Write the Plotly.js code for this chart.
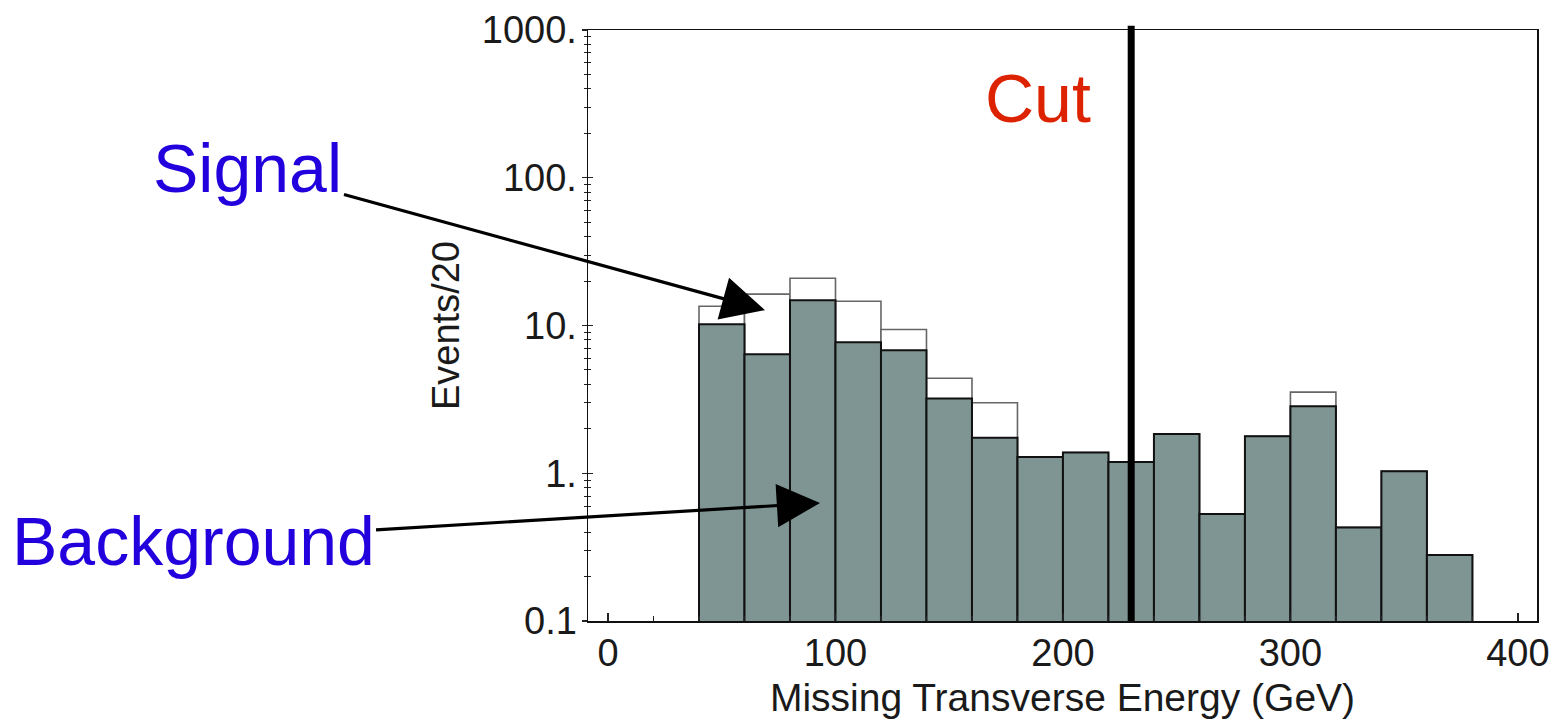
<!DOCTYPE html>
<html><head><meta charset="utf-8">
<script src="https://cdn.plot.ly/plotly-3.0.1.min.js"></script>
<style>html,body{margin:0;padding:0;background:#fff;} #chart{width:1554px;height:727px;}</style>
</head><body><div id="chart"></div>
<script>
// Bin centres (GeV), bin width 20
const binCenters = [50,70,90,110,130,150,170,190,210,230,250,270,290,310,330,350,370];
// Background events per bin
const background = [10.2,6.4,14.8,7.7,6.8,3.2,1.74,1.29,1.38,1.19,1.84,0.53,1.78,2.84,0.43,1.03,0.28];
// Signal + background (outlined histogram)
const total = [13.5,16.3,20.9,14.6,9.4,4.4,3.0,1.29,1.38,1.19,1.84,0.53,1.78,3.54,0.43,1.03,0.28];
const cutValue = 230;
const yTickVals = [0.1,1,10,100,1000];
const yTickText = ['0.1','1.','10.','100.','1000.'];

const minorY = [];
for (let k=-1;k<3;k++){ for (let d=2; d<=9; d++) minorY.push(d*Math.pow(10,k)); }

const FONT = 'Liberation Sans, Arial, sans-serif';

const traces = [
  {type:'bar', x:binCenters, y:total, width:20,
   marker:{color:'#ffffff', line:{color:'#666666', width:1.6}}, hoverinfo:'skip', showlegend:false},
  {type:'bar', x:binCenters, y:background, width:20,
   marker:{color:'#7f9593', line:{color:'#111111', width:2}}, hoverinfo:'skip', showlegend:false},
  {type:'scatter', mode:'markers', x:binCenters, y:background, yaxis:'y2',
   marker:{opacity:0}, hoverinfo:'skip', showlegend:false}
];

const yCommon = {
  type:'log', range:[-1,3], showgrid:false, zeroline:false,
  tickmode:'array', tickvals:yTickVals, ticktext:yTickText,
  tickcolor:'#222', tickwidth:1.3,
};

const layout = {
  width:1554, height:727,
  margin:{l:588, r:17, t:30, b:106},
  paper_bgcolor:'#fff', plot_bgcolor:'#fff',
  barmode:'overlay', bargap:0,
  font:{family:FONT, color:'#1a1a1a'},
  xaxis:{
    range:[-8.8,408.4], tickmode:'linear', tick0:0, dtick:100,
    ticks:'inside', ticklen:8, tickwidth:1.3, tickcolor:'#222',
    minor:{dtick:20, tick0:0, ticks:'inside', ticklen:5, tickwidth:1.2, tickcolor:'#222', showgrid:false},
    showline:true, linecolor:'#111', linewidth:1.5, mirror:true,
    showgrid:false, zeroline:false,
    tickfont:{size:38, family:FONT, color:'#1a1a1a'}, ticklabelstandoff:-2,
    title:{text:'Missing Transverse Energy (GeV)', font:{size:39, family:FONT, color:'#1a1a1a'}, standoff:10}
  },
  yaxis:Object.assign({}, yCommon, {
    ticks:'outside', ticklen:5,
    minor:{tickmode:'array', tickvals:minorY, ticks:'outside', ticklen:3, tickwidth:1, tickcolor:'#222', showgrid:false},
    showline:true, linecolor:'#111', linewidth:1.5, mirror:true,
    tickfont:{size:38, family:FONT, color:'#1a1a1a'}, ticklabelstandoff:-3,
    title:{text:'Events/20', font:{size:38, family:FONT, color:'#1a1a1a'}, standoff:10}
  }),
  yaxis2:Object.assign({}, yCommon, {
    overlaying:'y', side:'left', ticks:'inside', ticklen:5, showticklabels:false, showline:false,
    minor:{tickmode:'array', tickvals:minorY, ticks:'inside', ticklen:3, tickwidth:1, tickcolor:'#222', showgrid:false}
  }),
  shapes:[
    {type:'line', xref:'x', yref:'paper', x0:cutValue, x1:cutValue, y0:0, y1:1.007,
     line:{color:'#000', width:7}, layer:'above'}
  ],
  annotations:[
    {xref:'paper', yref:'paper', x:0.1865, y:0.526, text:'Signal', showarrow:true,
     ax:-517, ay:-142, arrowhead:2, arrowsize:2.7, arrowwidth:3.2, arrowcolor:'#000',
     font:{size:68, family:FONT, color:'#2200dd'}},
    {xref:'paper', yref:'paper', x:0.2445, y:0.1997, text:'Background', showarrow:true,
     ax:-627, ay:38, arrowhead:2, arrowsize:2.7, arrowwidth:3.2, arrowcolor:'#000',
     font:{size:68, family:FONT, color:'#2200dd'}},
    {xref:'x', yref:'paper', x:cutValue, y:0.885, xanchor:'right', yanchor:'middle', xshift:-38, text:'Cut', showarrow:false,
     font:{size:68, family:FONT, color:'#dd2200'}}
  ]
};

Plotly.newPlot('chart', traces, layout, {displayModeBar:false, staticPlot:true});
</script>
</body></html>
